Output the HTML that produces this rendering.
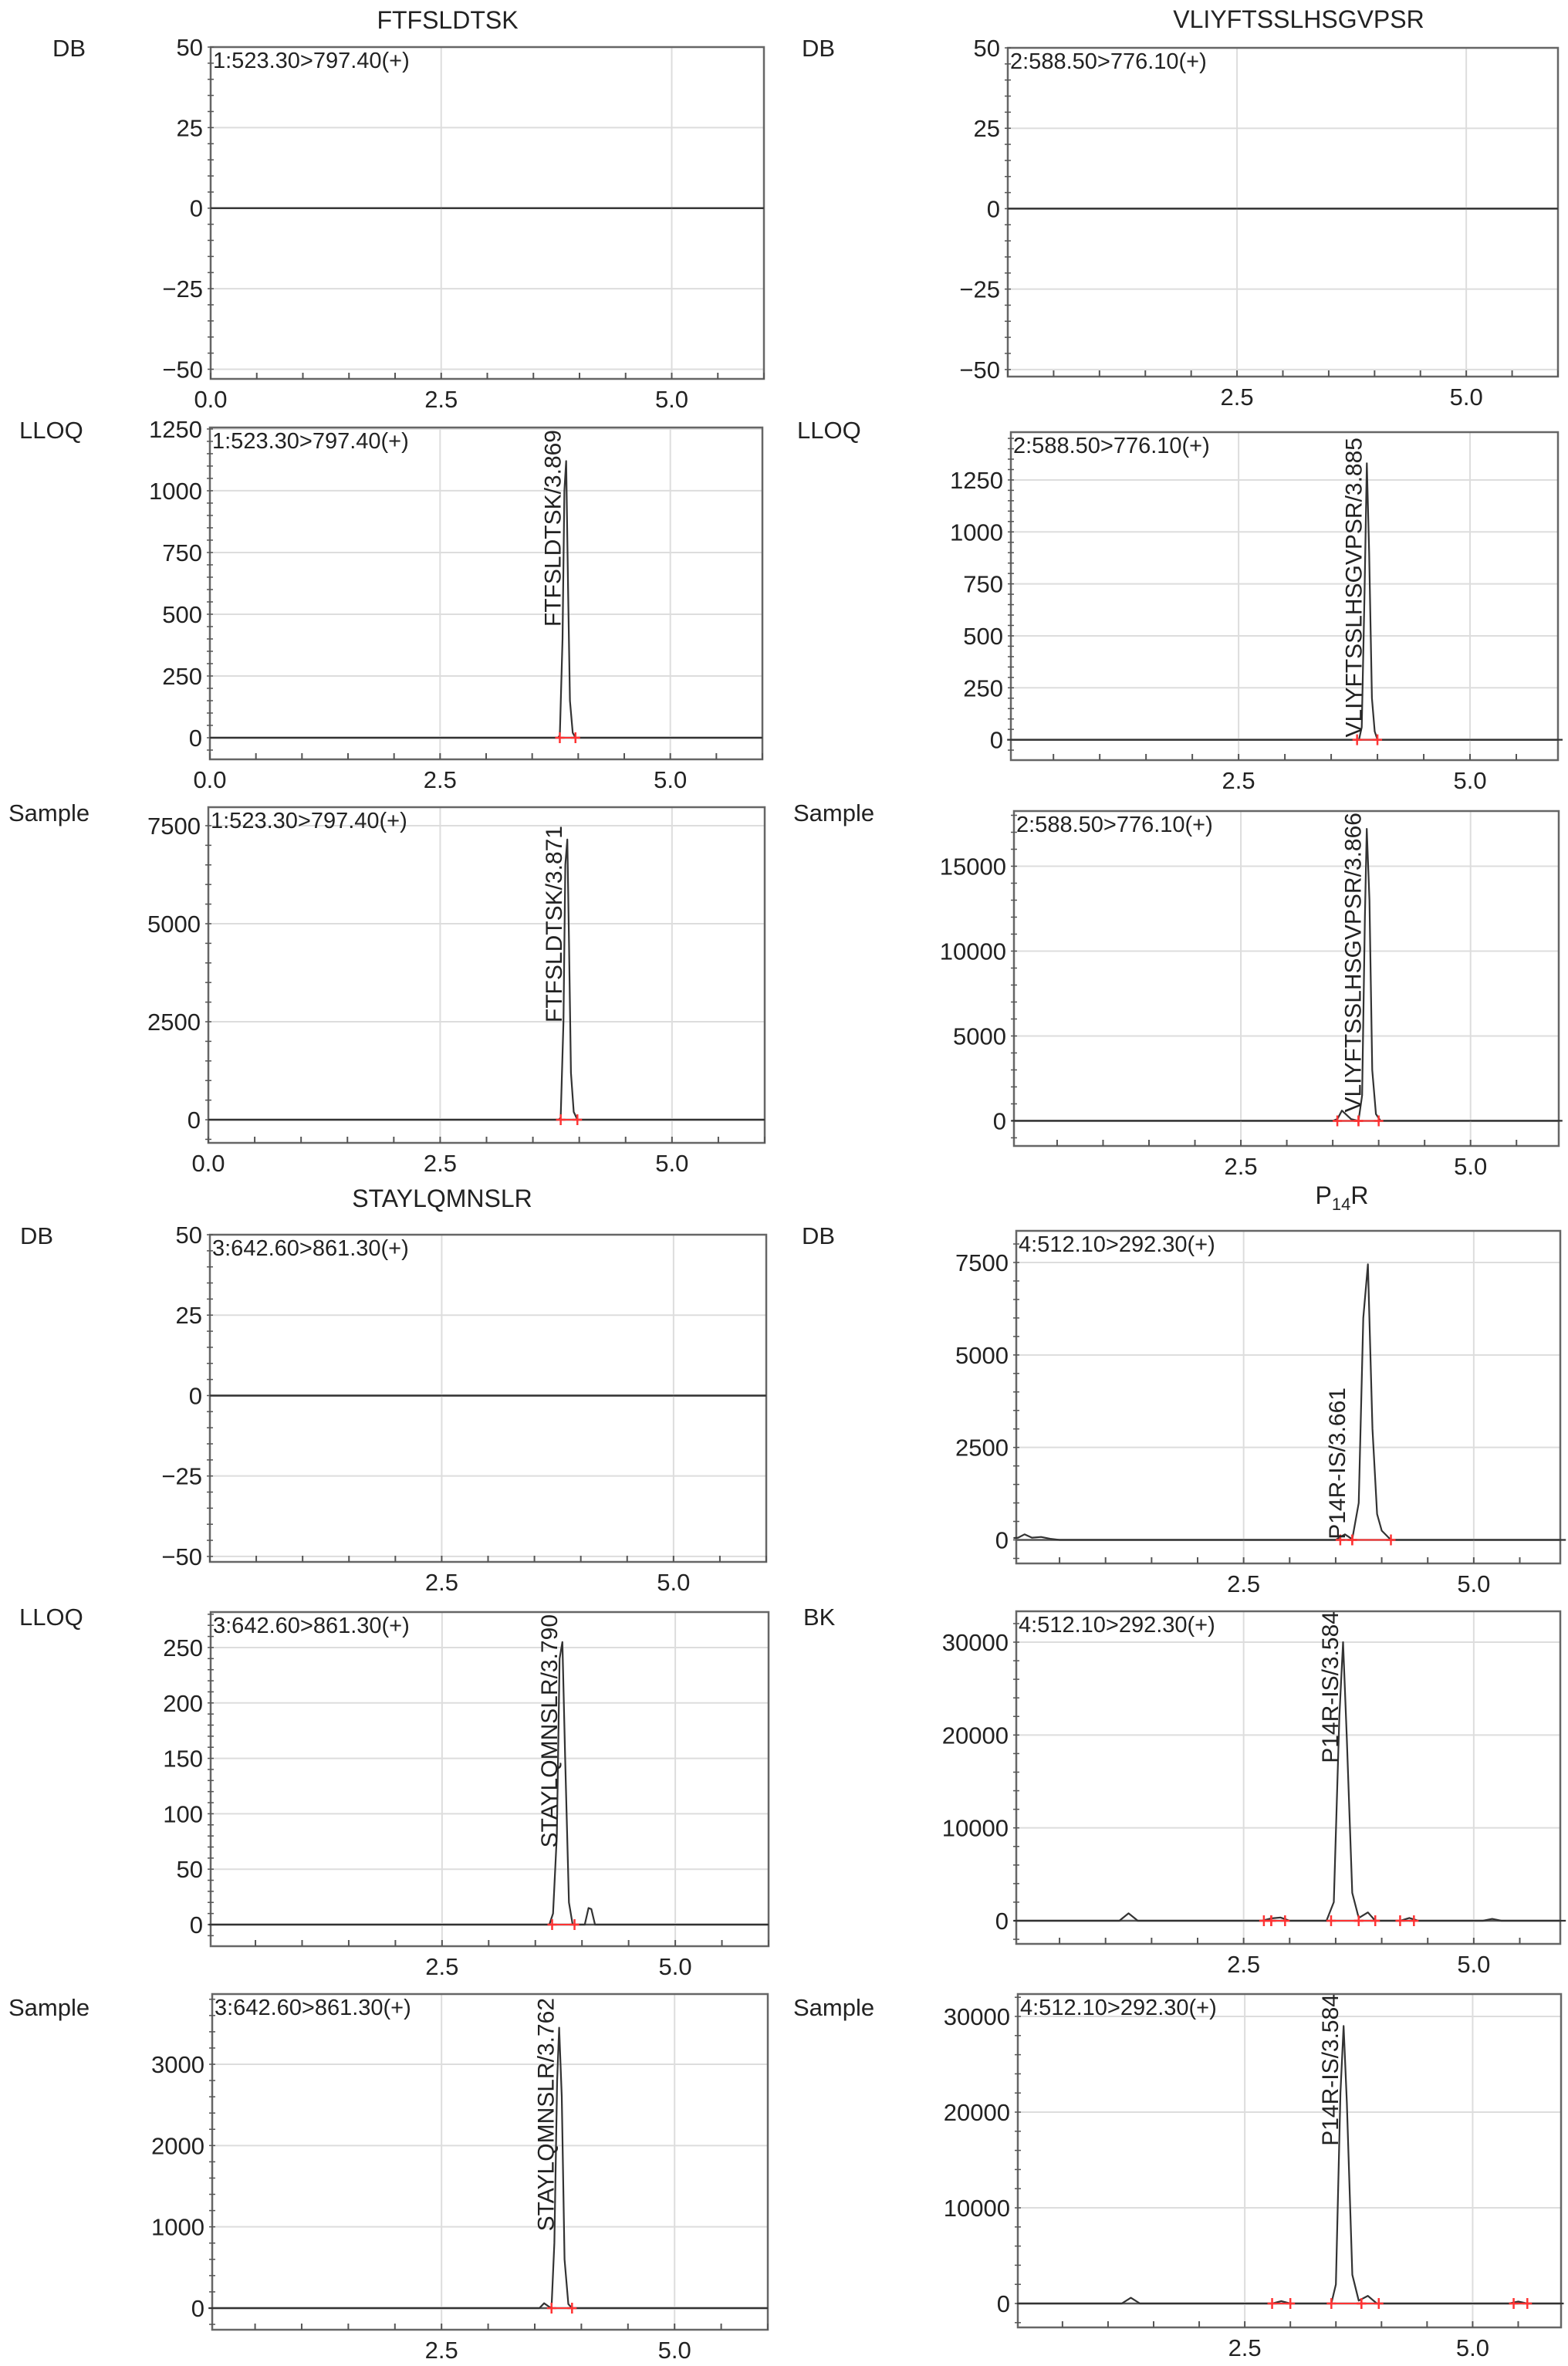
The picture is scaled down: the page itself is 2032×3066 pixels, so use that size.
<!DOCTYPE html>
<html><head><meta charset="utf-8">
<style>
html,body{margin:0;padding:0;background:#fff;}
svg{display:block;font-family:"Liberation Sans",Arial,sans-serif;}
</style></head>
<body>
<svg id="chart" width="2032" height="3066" viewBox="0 0 2032 3066" xmlns="http://www.w3.org/2000/svg">
<rect width="2032" height="3066" fill="#fff"/>
<text x="580" y="37" font-size="32" text-anchor="middle" fill="#222">FTFSLDTSK</text>
<text x="1683" y="36" font-size="32" text-anchor="middle" fill="#222">VLIYFTSSLHSGVPSR</text>
<text x="573" y="1564" font-size="32" text-anchor="middle" fill="#222">STAYLQMNSLR</text>
<text x="1739" y="1560" font-size="32" text-anchor="middle" fill="#222">P<tspan font-size="22" dy="8">14</tspan><tspan dy="-8">R</tspan></text>
<g id="panels"></g>
</svg>
<script>
// ---- data (retention time in min, intensity) ----
const tL1 = [0, 6];            const vL1 = [0, 0];
const tL2 = [0,3.78,3.80,3.83,3.85,3.869,3.89,3.91,3.94,3.97,6];
const vL2 = [0,0,10,400,1000,1120,600,150,20,0,0];
const tL3 = [0,3.78,3.80,3.83,3.85,3.871,3.89,3.91,3.94,3.98,6];
const vL3 = [0,0,60,2500,6500,7150,4500,1200,200,0,0];
const tL4 = [0, 6];            const vL4 = [0, 0];
const tL5 = [0,3.65,3.69,3.73,3.76,3.79,3.82,3.86,3.9,4.03,4.07,4.1,4.14,6];
const vL5 = [0,0,10,80,240,255,150,20,0,0,15,14,0,0];
const tL6 = [0,3.55,3.6,3.65,3.68,3.71,3.74,3.762,3.79,3.82,3.86,3.9,6];
const vL6 = [0,0,60,20,0,800,2800,3450,2600,600,50,0,0];
const tR1 = [0, 6];            const vR1 = [0, 0];
const tR2 = [0,3.8,3.83,3.86,3.885,3.91,3.94,3.97,4.0,6];
const vR2 = [0,0,60,700,1330,900,200,40,0,0];
const tR3 = [0,3.5,3.55,3.6,3.7,3.78,3.82,3.85,3.87,3.9,3.93,3.97,4.02,6];
const vR3 = [0,0,100,600,100,0,1500,12000,17200,13000,3000,400,0,0];
const tR4 = [0,0.05,0.12,0.2,0.3,0.4,0.5,3.5,3.55,3.6,3.68,3.75,3.8,3.85,3.9,3.95,4.0,4.1,6];
const vR4 = [50,60,150,60,80,30,0,0,80,150,20,1000,6000,7450,3000,700,250,0,0];
const tR5 = [0,0.1,1.15,1.25,1.35,2.7,2.8,2.9,3.0,3.4,3.48,3.54,3.58,3.62,3.68,3.75,3.85,3.93,4.2,4.3,4.4,5.1,5.2,5.3,6];
const vR5 = [0,0,0,800,0,0,250,350,0,0,2000,22000,30000,20000,3000,300,900,0,0,300,0,0,200,0,0];
const tR6 = [0,1.15,1.25,1.35,2.8,2.9,3.0,3.45,3.5,3.55,3.584,3.62,3.68,3.75,3.85,3.95,5.4,5.5,5.6,6];
const vR6 = [0,0,600,0,0,250,0,0,2000,22000,29000,21000,3000,300,800,0,0,200,0,0];
// integration segments (start,end times)
const mL2 = [[3.80,3.97]]; const mL3 = [[3.80,3.98]]; const mR2 = [[3.78,4.0]];
const mR3 = [[3.55,3.78],[3.78,4.0]]; const mL5 = [[3.68,3.92]]; const mL6 = [[3.68,3.9]];
const mR4 = [[3.55,3.68],[3.68,4.1]];
const mR5 = [[2.72,2.8],[2.8,2.95],[3.45,3.75],[3.75,3.93],[4.2,4.35]];
const mR6 = [[2.8,3.0],[3.45,3.78],[3.78,3.97],[5.45,5.6]];
// tick labels
const yTicksDB = [50,25,0,-25,-50];
const yTicksL2 = [0,250,500,750,1000,1250];
const yTicksL3 = [0,2500,5000,7500];
const yTicksL5 = [0,50,100,150,200,250];
const yTicksL6 = [0,1000,2000,3000];
const yTicksR3 = [0,5000,10000,15000];
const yTicksR4 = [0,2500,5000,7500];
const yTicksR5 = [0,10000,20000,30000];
const xTicksFull = [0,2.5,5];
const xTicksPart = [2.5,5];
// peak labels
const labL2 = "FTFSLDTSK/3.869", labL3 = "FTFSLDTSK/3.871";
const labR2 = "VLIYFTSSLHSGVPSR/3.885", labR3 = "VLIYFTSSLHSGVPSR/3.866";
const labL5 = "STAYLQMNSLR/3.790", labL6 = "STAYLQMNSLR/3.762";
const labR4 = "P14R-IS/3.661", labR5 = "P14R-IS/3.584", labR6 = "P14R-IS/3.584";

const panels = [
 {id:'l1',row:'DB',rx:68,ry:73,L:273,R:990,T:61,B:491,x:[0,6],y:[-53,50],yt:yTicksDB,xt:xTicksFull,t:tL1,v:vL1,m:[],ann:'1:523.30>797.40(+)'},
 {id:'l2',row:'LLOQ',rx:25,ry:568,L:272,R:988,T:554,B:984,x:[0,6],y:[-87.5,1256],yt:yTicksL2,xt:xTicksFull,t:tL2,v:vL2,m:mL2,ann:'1:523.30>797.40(+)',lab:labL2,lrt:3.869,lt:557},
 {id:'l3',row:'Sample',rx:11,ry:1064,L:270,R:991,T:1046,B:1481,x:[0,6],y:[-590,7972],yt:yTicksL3,xt:xTicksFull,t:tL3,v:vL3,m:mL3,ann:'1:523.30>797.40(+)',lab:labL3,lrt:3.871,lt:1070},
 {id:'l4',row:'DB',rx:26,ry:1612,L:272,R:993,T:1600,B:2024,x:[0,6],y:[-51.7,50],yt:yTicksDB,xt:xTicksPart,t:tL4,v:vL4,m:[],ann:'3:642.60>861.30(+)'},
 {id:'l5',row:'LLOQ',rx:25,ry:2106,L:273,R:996,T:2089,B:2522,x:[0.02,6],y:[-19.5,282],yt:yTicksL5,xt:xTicksPart,t:tL5,v:vL5,m:mL5,ann:'3:642.60>861.30(+)',lab:labL5,lrt:3.79,lt:2092},
 {id:'l6',row:'Sample',rx:11,ry:2612,L:275,R:995,T:2584,B:3019,x:[0.04,6],y:[-266,3864],yt:yTicksL6,xt:xTicksPart,t:tL6,v:vL6,m:mL6,ann:'3:642.60>861.30(+)',lab:labL6,lrt:3.762,lt:2589},
 {id:'r1',row:'DB',rx:1039,ry:73,L:1306,R:2019,T:62,B:488,x:[0,6],y:[-52.2,50],yt:yTicksDB,xt:xTicksPart,t:tR1,v:vR1,m:[],ann:'2:588.50>776.10(+)'},
 {id:'r2',row:'LLOQ',rx:1033,ry:568,L:1310,R:2019,T:560,B:985,x:[0.04,5.95],y:[-98,1480],yt:yTicksL2,xt:xTicksPart,t:tR2,v:vR2,m:mR2,ann:'2:588.50>776.10(+)',lab:labR2,lrt:3.885,lt:567},
 {id:'r3',row:'Sample',rx:1028,ry:1064,L:1314,R:2020,T:1051,B:1485,x:[0.03,5.96],y:[-1480,18250],yt:yTicksR3,xt:xTicksPart,t:tR3,v:vR3,m:mR3,ann:'2:588.50>776.10(+)',lab:labR3,lrt:3.866,lt:1053},
 {id:'r4',row:'DB',rx:1039,ry:1612,L:1317,R:2022,T:1595,B:2026,x:[0.03,5.94],y:[-636,8355],yt:yTicksR4,xt:xTicksPart,t:tR4,v:vR4,m:mR4,ann:'4:512.10>292.30(+)',lab:labR4,lrt:3.661,lt:1798},
 {id:'r5',row:'BK',rx:1041,ry:2106,L:1317,R:2022,T:2088,B:2519,x:[0.03,5.94],y:[-2493,33324],yt:yTicksR5,xt:xTicksPart,t:tR5,v:vR5,m:mR5,ann:'4:512.10>292.30(+)',lab:labR5,lrt:3.584,lt:2088},
 {id:'r6',row:'Sample',rx:1028,ry:2612,L:1319,R:2023,T:2584,B:3016,x:[0.01,5.97],y:[-2500,32339],yt:yTicksR5,xt:xTicksPart,t:tR6,v:vR6,m:mR6,ann:'4:512.10>292.30(+)',lab:labR6,lrt:3.584,lt:2584}
];

const NS = 'http://www.w3.org/2000/svg';
const root = document.getElementById('panels');
function mk(tag, attrs, parent){
  const e = document.createElementNS(NS, tag);
  for (const k in attrs) e.setAttribute(k, attrs[k]);
  parent.appendChild(e); return e;
}
panels.forEach(p => {
  const g = mk('g', {}, root);
  
  
  const sx = t => p.L + (t - p.x[0]) / (p.x[1] - p.x[0]) * (p.R - p.L);
  const sy = v => p.B - (v - p.y[0]) / (p.y[1] - p.y[0]) * (p.B - p.T);
  const rl = mk('text', {x:p.rx, y:p.ry, 'font-size':31, fill:'#222'}, g);
  rl.textContent = p.row;
  
  
  p.yt.forEach(v => {
    const ln = mk('line', {x1:p.L, x2:p.R, y1:sy(v), y2:sy(v), stroke: v===0 ? '#555' : '#ddd', 'stroke-width': v===0 ? 2.5 : 2}, g);
    
    
  });
  [2.5,5].forEach(t => {
    const ln = mk('line', {x1:sx(t), x2:sx(t), y1:p.T, y2:p.B, stroke:'#ddd', 'stroke-width':2}, g);
    
    
  });
  const fr = mk('rect', {x:p.L, y:p.T, width:p.R-p.L, height:p.B-p.T, fill:'none', stroke:'#666', 'stroke-width':2.5}, g);
  
  
  for (let t = 0; t <= 6.001; t += 0.5) {
    if (t < p.x[0] - 0.001 || t > p.x[1] + 0.001) continue;
    const tk = mk('line', {x1:sx(t), x2:sx(t), y1:p.B, y2:p.B-8, stroke:'#555', 'stroke-width':2}, g);
    
    
  }
  const ys = Math.abs(p.yt[1] - p.yt[0]) / 5;
  for (let v = Math.ceil(p.y[0]/ys)*ys; v <= p.y[1]; v += ys) {
    const tk = mk('line', {x1:p.L-4, x2:p.L+4, y1:sy(v), y2:sy(v), stroke:'#555', 'stroke-width':1.5}, g);
    
    
  }
  p.yt.forEach(v => {
    const tl = mk('text', {x:p.L-10, y:sy(v)+11, 'font-size':31, 'text-anchor':'end', fill:'#222'}, g);
    tl.textContent = v < 0 ? '\u2212' + Math.abs(v) : String(v);
    
    
  });
  p.xt.forEach(t => {
    const tl = mk('text', {x:sx(t), y:p.B+37, 'font-size':31, 'text-anchor':'middle', fill:'#222'}, g);
    tl.textContent = t.toFixed(1);
    
    
  });
  const pts = p.t.map((t,i) => sx(t).toFixed(1) + ',' + sy(p.v[i]).toFixed(1)).join(' ');
  const tr = mk('polyline', {points:pts, fill:'none', stroke:'#333', 'stroke-width':2.2, 'stroke-linejoin':'round'}, g);
  
  
  p.m.forEach(seg => {
    const bl = mk('line', {x1:sx(seg[0]), x2:sx(seg[1]), y1:sy(0), y2:sy(0), stroke:'#f33', 'stroke-width':2}, g);
    
    
    seg.forEach(t => {
      const c = mk('path', {d:`M${sx(t)-6},${sy(0)} h12 M${sx(t)},${sy(0)-7} v14`, stroke:'#f33', 'stroke-width':2.5}, g);
      
      
    });
  });
  const an = mk('text', {x:p.L+3, y:p.T+27, 'font-size':29, fill:'#222'}, g);
  an.textContent = p.ann;
  
  
  if (p.lab) {
    const bx = sx(p.lrt) - 7;
    const pl = mk('text', {x:0, y:0, 'font-size':30, 'text-anchor':'end', fill:'#222', transform:`translate(${bx},${p.lt}) rotate(-90)`}, g);
    pl.textContent = p.lab;
    
    
  }
});
</script>
</body></html>
